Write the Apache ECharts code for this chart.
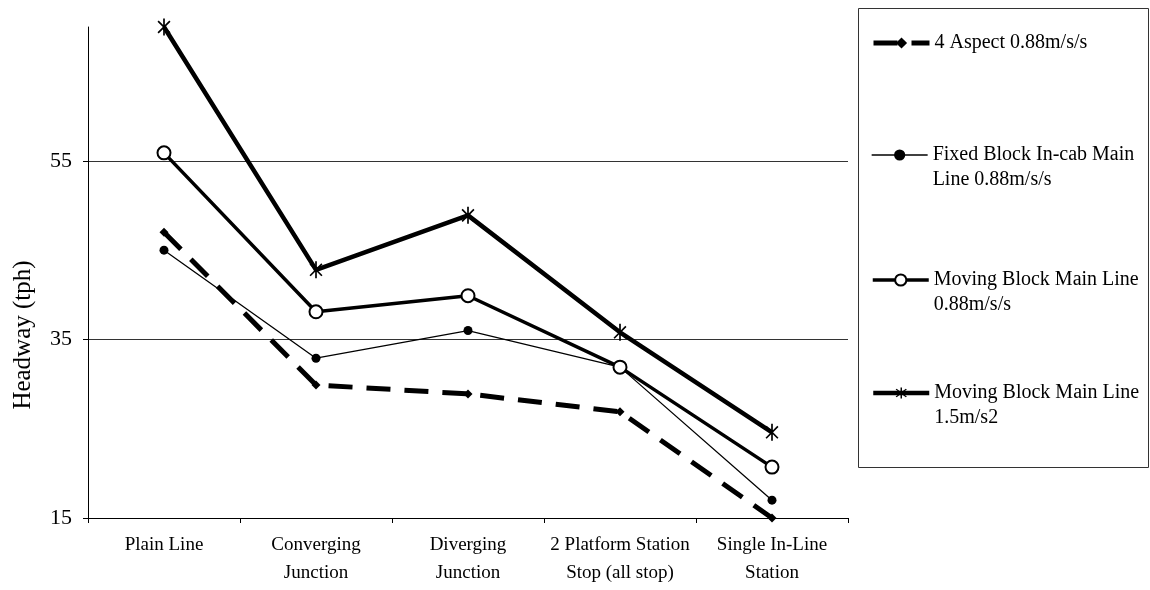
<!DOCTYPE html>
<html>
<head>
<meta charset="utf-8">
<script src="https://cdn.jsdelivr.net/npm/echarts@6/dist/echarts.min.js"></script>
<style>
html,body{margin:0;padding:0;background:#fff;}
#chart{width:1150px;height:590px;}
</style>
</head>
<body>
<div id="chart"></div>
<script>
const categories = ['Plain Line', 'Converging\nJunction', 'Diverging\nJunction', '2 Platform Station\nStop (all stop)', 'Single In-Line\nStation'];
const seriesNames = ['4 Aspect 0.88m/s/s', 'Fixed Block In-cab Main\nLine 0.88m/s/s', 'Moving Block Main Line\n0.88m/s/s', 'Moving Block Main Line\n1.5m/s2'];
const fourAspect = [47.0, 29.9, 28.9, 26.9, 15.0];
const fixedBlock = [45.0, 32.9, 36.0, 31.9, 17.0];
const movingBlock088 = [55.9, 38.1, 39.9, 31.9, 20.7];
const movingBlock15 = [70.0, 42.8, 48.9, 35.8, 24.6];
const yTicks = {min: 15, max: 70, interval: 20};
const yAxisTitle = 'Headway (tph)';

const FONT = 'Liberation Serif, Times New Roman, serif';
const starPath = 'path://M-1,-10L1,-10L1,10L-1,10Z M-6.3,-7.7L7.7,6.3L6.3,7.7L-7.7,-6.3Z M-7.7,6.3L6.3,-7.7L7.7,-6.3L-6.3,7.7Z';

const chart = echarts.init(document.getElementById('chart'), null, {renderer: 'canvas'});

function legendFor(name, top) {
  return {
    data: [name],
    left: 871,
    top: top,
    padding: 0,
    orient: 'vertical',
    itemWidth: 56,
    itemHeight: 14,
    selectedMode: false,
    lineStyle: {width: 'inherit'},
    textStyle: {fontFamily: FONT, fontSize: 20, color: '#000', lineHeight: 25},
    formatter: function (n) { return n.indexOf('\n') >= 0 ? ' \n' + n : n; }
  };
}

const option = {
  backgroundColor: '#fff',
  animation: false,
  grid: {left: 88, right: 302, top: 27, bottom: 72, containLabel: false},
  xAxis: {
    type: 'category',
    data: categories,
    boundaryGap: true,
    axisLine: {show: true, lineStyle: {color: '#000', width: 1}},
    axisTick: {show: true, length: 5, lineStyle: {color: '#000'}},
    axisLabel: {fontFamily: FONT, fontSize: 19, color: '#000', lineHeight: 28, margin: 13, interval: 0}
  },
  yAxis: {
    type: 'value',
    min: yTicks.min, max: yTicks.max, interval: yTicks.interval,
    axisLine: {show: true, lineStyle: {color: '#000', width: 1}},
    axisTick: {show: true, length: 5, lineStyle: {color: '#000'}},
    axisLabel: {fontFamily: FONT, fontSize: 22, color: '#000', margin: 16, showMaxLabel: false},
    splitLine: {show: true, showMinLine: false, showMaxLine: false, lineStyle: {color: '#333', width: 1}}
  },
  legend: [
    legendFor(seriesNames[0], 30.5),
    legendFor(seriesNames[1], 117.5),
    legendFor(seriesNames[2], 242.5),
    legendFor(seriesNames[3], 355.5)
  ],
  graphic: [
    {type: 'rect', shape: {x: 858.5, y: 8.5, width: 290, height: 459}, style: {fill: 'none', stroke: '#333', lineWidth: 1}, z: 0},
    {type: 'text', x: 23, y: 335, rotation: Math.PI / 2,
     style: {text: yAxisTitle, font: '25px ' + FONT, fill: '#000', textAlign: 'center', textVerticalAlign: 'middle'}}
  ],
  series: [
    {
      name: seriesNames[0], type: 'line', data: fourAspect,
      symbol: 'diamond', symbolSize: 9, showSymbol: true,
      lineStyle: {color: '#000', width: 5, type: [24, 14]},
      itemStyle: {color: '#000'}, z: 2
    },
    {
      name: seriesNames[1], type: 'line', data: fixedBlock,
      symbol: 'circle', symbolSize: 9,
      lineStyle: {color: '#000', width: 1.3},
      itemStyle: {color: '#000'}, z: 3
    },
    {
      name: seriesNames[2], type: 'line', data: movingBlock088,
      symbol: 'emptyCircle', symbolSize: 13,
      lineStyle: {color: '#000', width: 3.5},
      itemStyle: {color: '#000', borderColor: '#000', borderWidth: 1}, z: 4
    },
    {
      name: seriesNames[3], type: 'line', data: movingBlock15,
      symbol: starPath, symbolSize: [13, 17],
      lineStyle: {color: '#000', width: 4.5},
      itemStyle: {color: '#000'}, z: 5
    }
  ]
};
chart.setOption(option);
</script>
</body>
</html>
